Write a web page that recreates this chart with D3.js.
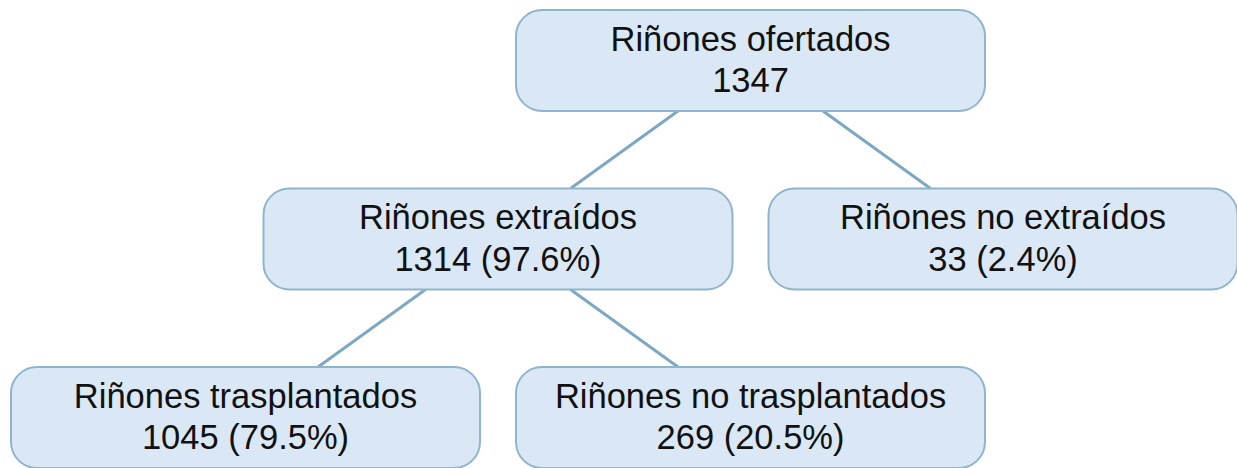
<!DOCTYPE html>
<html>
<head>
<meta charset="utf-8">
<script src="https://cdn.jsdelivr.net/npm/d3@7"></script>
<style>
  html, body { margin: 0; padding: 0; background: #ffffff; }
  svg { display: block; }
</style>
</head>
<body>
<div id="chart"></div>
<script>
// ---- Data ----
const nodeIds     = ["ofertados", "extraidos", "noExtraidos", "trasplantados", "noTrasplantados"];
const nodeParents = [null, "ofertados", "ofertados", "extraidos", "extraidos"];
const nodeLabels  = ["Riñones ofertados", "Riñones extraídos", "Riñones no extraídos", "Riñones trasplantados", "Riñones no trasplantados"];
const nodeCounts  = [1347, 1314, 33, 1045, 269];
const nodePercents = [null, "97.6%", "2.4%", "79.5%", "20.5%"];

// ---- Layout / style ----
const W = 1237, H = 468;
const boxW = 469, boxH = 101, boxR = 26;
const rootX = 750.5, topY = 10, levelGap = 178.5;
const linkOffset = 72.5;
const fillColor = "#dae8f6", strokeColor = "#8fb5cd", linkColor = "#7da8c3";

const table = nodeIds.map((id, i) => ({
  id, parentId: nodeParents[i], label: nodeLabels[i],
  count: nodeCounts[i], pct: nodePercents[i]
}));

const root = d3.stratify().id(d => d.id).parentId(d => d.parentId)(table);
d3.tree().nodeSize([505, 1]).separation(() => 1)(root);

const y = d3.scaleLinear().domain([0, 1]).range([topY, topY + levelGap]);
root.each(n => { n.cx = rootX + n.x; n.top = y(n.depth); });

const svg = d3.select("#chart").append("svg")
  .attr("width", W).attr("height", H);

// links
svg.append("g").selectAll("line")
  .data(root.links())
  .join("line")
  .attr("x1", d => d.source.cx + (d.target.cx < d.source.cx ? -linkOffset : linkOffset))
  .attr("y1", d => d.source.top + boxH)
  .attr("x2", d => d.target.cx + (d.target.cx < d.source.cx ? linkOffset : -linkOffset))
  .attr("y2", d => d.target.top)
  .attr("stroke", linkColor)
  .attr("stroke-width", 3);

// nodes
const g = svg.append("g").selectAll("g")
  .data(root.descendants())
  .join("g")
  .attr("transform", d => `translate(${d.cx},${d.top})`);

g.append("rect")
  .attr("x", -boxW / 2).attr("y", 0)
  .attr("width", boxW).attr("height", boxH)
  .attr("rx", boxR).attr("ry", boxR)
  .attr("fill", fillColor)
  .attr("stroke", strokeColor)
  .attr("stroke-width", 2);

const t = g.append("text")
  .attr("text-anchor", "middle")
  .attr("font-family", "'Liberation Sans', Arial, sans-serif")
  .attr("font-size", 34.5)
  .attr("fill", "#111111");

t.append("tspan").attr("x", 0).attr("y", 40.5).text(d => d.data.label);
t.append("tspan").attr("x", 0).attr("y", 82)
  .text(d => d.data.pct ? `${d.data.count} (${d.data.pct})` : `${d.data.count}`);
</script>
</body>
</html>
